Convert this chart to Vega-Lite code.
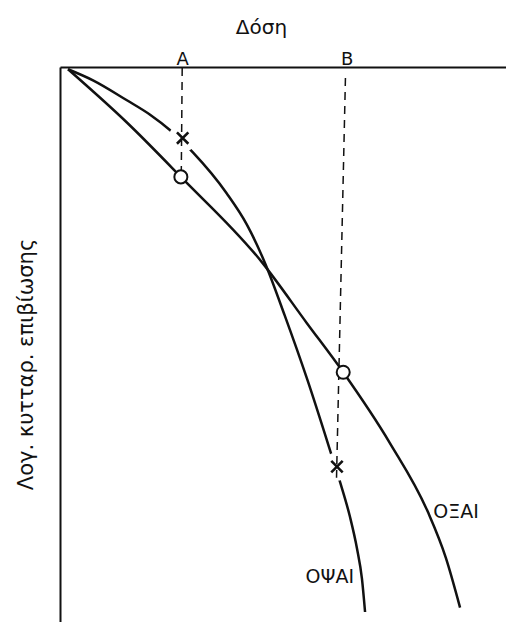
{
  "$schema": "https://vega.github.io/schema/vega-lite/v6.json",
  "width": 446,
  "height": 555,
  "autosize": "none",
  "padding": {"left": 60, "top": 67, "right": 0, "bottom": 0},
  "background": "white",
  "config": {
    "view": {"stroke": null},
    "font": "DejaVu Sans",
    "axis": {"grid": false, "ticks": false, "domainColor": "#111", "domainWidth": 2}
  },
  "datasets": {
    "curves": [
      {"curve": "ΟΞΑΙ", "dose": 0.18, "logS": -0.02},
      {"curve": "ΟΞΑΙ", "dose": 1.50, "logS": -0.50},
      {"curve": "ΟΞΑΙ", "dose": 2.71, "logS": -0.99},
      {"curve": "ΟΞΑΙ", "dose": 4.53, "logS": -1.76},
      {"curve": "ΟΞΑΙ", "dose": 5.54, "logS": -2.31},
      {"curve": "ΟΞΑΙ", "dose": 6.35, "logS": -2.75},
      {"curve": "ΟΞΑΙ", "dose": 7.40, "logS": -3.39},
      {"curve": "ΟΞΑΙ", "dose": 8.25, "logS": -4.01},
      {"curve": "ΟΞΑΙ", "dose": 8.65, "logS": -4.42},
      {"curve": "ΟΞΑΙ", "dose": 8.97, "logS": -4.87},
      {"curve": "ΟΨΑΙ", "dose": 0.18, "logS": -0.02},
      {"curve": "ΟΨΑΙ", "dose": 0.74, "logS": -0.12},
      {"curve": "ΟΨΑΙ", "dose": 1.50, "logS": -0.30},
      {"curve": "ΟΨΑΙ", "dose": 2.02, "logS": -0.43},
      {"curve": "ΟΨΑΙ", "dose": 2.47, "logS": -0.57},
      {"curve": "ΟΨΑΙ", "dose": 2.98, "logS": -0.77},
      {"curve": "ΟΨΑΙ", "dose": 3.74, "logS": -1.14},
      {"curve": "ΟΨΑΙ", "dose": 4.19, "logS": -1.42},
      {"curve": "ΟΨΑΙ", "dose": 4.60, "logS": -1.77},
      {"curve": "ΟΨΑΙ", "dose": 5.04, "logS": -2.24},
      {"curve": "ΟΨΑΙ", "dose": 5.54, "logS": -2.81},
      {"curve": "ΟΨΑΙ", "dose": 6.10, "logS": -3.51},
      {"curve": "ΟΨΑΙ", "dose": 6.28, "logS": -3.74},
      {"curve": "ΟΨΑΙ", "dose": 6.50, "logS": -4.05},
      {"curve": "ΟΨΑΙ", "dose": 6.66, "logS": -4.34},
      {"curve": "ΟΨΑΙ", "dose": 6.77, "logS": -4.61},
      {"curve": "ΟΨΑΙ", "dose": 6.84, "logS": -4.91}
    ],
    "doseLines": [
      {"mark": "A", "dose": 2.74, "logS": -0.01, "dose2": 2.72, "logS2": -0.93},
      {"mark": "B", "dose": 6.40, "logS": -0.10, "dose2": 6.20, "logS2": -3.70}
    ],
    "points": [
      {"curve": "ΟΞΑΙ", "mark": "A", "dose": 2.71, "logS": -0.99},
      {"curve": "ΟΞΑΙ", "mark": "B", "dose": 6.35, "logS": -2.75},
      {"curve": "ΟΨΑΙ", "mark": "A", "dose": 2.75, "logS": -0.64},
      {"curve": "ΟΨΑΙ", "mark": "B", "dose": 6.21, "logS": -3.60}
    ],
    "names": [
      {"curve": "ΟΞΑΙ", "dose": 8.88, "logS": -4.06},
      {"curve": "ΟΨΑΙ", "dose": 6.05, "logS": -4.65}
    ]
  },
  "encoding": {
    "x": {
      "field": "dose",
      "type": "quantitative",
      "scale": {"domain": [0, 10], "nice": false, "zero": false},
      "axis": {
        "orient": "top",
        "title": "Δόση",
        "titleFontSize": 20,
        "titleFontWeight": "normal",
        "titleColor": "#111",
        "titleX": 201,
        "titleY": -34,
        "titleBaseline": "alphabetic",
        "values": [2.74, 6.43],
        "labelExpr": "datum.value < 4 ? 'A' : 'B'",
        "labelFontSize": 18,
        "labelColor": "#111",
        "labelPadding": 3,
        "labelBaseline": "alphabetic"
      }
    },
    "y": {
      "field": "logS",
      "type": "quantitative",
      "scale": {"domain": [-5, 0], "nice": false, "zero": false},
      "axis": {
        "orient": "left",
        "title": "Λογ. κυτταρ. επιβίωσης",
        "titleFontSize": 21,
        "titleFontWeight": "normal",
        "titleColor": "#111",
        "titleAngle": -90,
        "titleX": -34,
        "titleY": 297,
        "titleAlign": "center",
        "titleBaseline": "middle",
        "labels": false
      }
    }
  },
  "layer": [
    {
      "data": {"name": "curves"},
      "mark": {"type": "line", "color": "#111", "strokeWidth": 2.5, "interpolate": "monotone"},
      "encoding": {"detail": {"field": "curve"}}
    },
    {
      "data": {"name": "points"},
      "transform": [{"filter": "datum.curve == 'ΟΨΑΙ'"}],
      "mark": {"type": "point", "shape": "circle", "filled": true, "color": "white", "opacity": 1, "size": 800}
    },
    {
      "data": {"name": "doseLines"},
      "mark": {"type": "rule", "color": "#111", "strokeWidth": 1.5, "strokeDash": [8, 6]},
      "encoding": {
        "x2": {"field": "dose2"},
        "y2": {"field": "logS2"}
      }
    },
    {
      "data": {"name": "points"},
      "transform": [{"filter": "datum.curve == 'ΟΞΑΙ'"}],
      "mark": {"type": "point", "shape": "circle", "filled": false, "fill": "white", "fillOpacity": 1, "stroke": "#111", "strokeWidth": 2, "opacity": 1, "size": 170}
    },
    {
      "data": {"name": "points"},
      "transform": [{"filter": "datum.curve == 'ΟΨΑΙ'"}],
      "mark": {"type": "point", "shape": "M-1,-1L1,1M1,-1L-1,1", "filled": false, "stroke": "#111", "strokeWidth": 2.6, "opacity": 1, "size": 130}
    },
    {
      "data": {"name": "names"},
      "mark": {"type": "text", "fontSize": 19, "color": "#111", "baseline": "alphabetic", "align": "center"},
      "encoding": {"text": {"field": "curve"}}
    }
  ]
}
